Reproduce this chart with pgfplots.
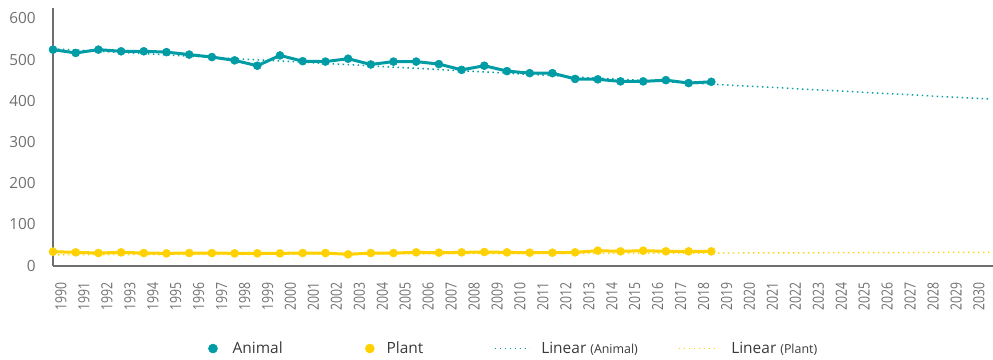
\documentclass[border=0pt]{standalone}
\usepackage{fontspec}
\setmainfont{Open Sans}
\newfontfamily\narrow[FakeStretch=0.8]{Open Sans}
\usepackage{pgfplots}
\pgfplotsset{compat=1.18}
\definecolor{animal}{HTML}{009CA6}
\definecolor{plant}{HTML}{FFD100}
\definecolor{axgray}{HTML}{6E6E6E}
\definecolor{labgray}{HTML}{707070}
\definecolor{legtext}{HTML}{3A3A3A}
\begin{document}
\begin{tikzpicture}
\useasboundingbox (-39.75pt,-70pt) rectangle (705pt,199.3pt);
\begin{axis}[
  at={(0,0)}, anchor=south west,
  width=705pt, height=193.3pt, scale only axis,
  xmin=0, xmax=41.41, ymin=0, ymax=625,
  clip=false,
  axis x line*=bottom, axis y line*=left,
  axis line style={axgray, line width=1.5pt, -},
  major tick length=0pt, tick style={draw=none},
  ytick={0,100,...,600},
  xtick={0.352,1.363,...,40.8},
  xticklabels={1990,1991,1992,1993,1994,1995,1996,1997,1998,1999,2000,2001,2002,2003,2004,2005,2006,2007,2008,2009,2010,2011,2012,2013,2014,2015,2016,2017,2018,2019,2020,2021,2022,2023,2024,2025,2026,2027,2028,2029,2030},
  /pgf/number format/assume math mode=true,
  yticklabel style={inner sep=0pt, anchor=east, xshift=-12.75pt, font=\fontsize{11.5}{13}\selectfont, text=labgray},
  xticklabel style={yshift=-12.2pt, rotate=90, anchor=east, inner sep=0pt, font=\narrow\fontsize{11.5}{13}\selectfont, text=labgray},
  legend columns=4,
  legend cell align=left,
  legend style={draw=none, fill=none, inner sep=0pt, outer sep=0pt,
    font=\fontsize{11.6}{13}\selectfont, text=legtext,
    nodes={inner sep=0pt},
    /tikz/every even column/.style={column sep=0pt},
    /tikz/every odd column/.style={column sep=0pt},
    at={(axis description cs:0,0)}, anchor=west, xshift=116.4pt, yshift=-62.1pt},
]
% trend lines
\addplot[animal, line width=1.1pt, dash pattern=on 1.1pt off 2.65pt, forget plot] coordinates {(0,526) (41.3,404)};
\addplot[plant, line width=1.1pt, dash pattern=on 1.1pt off 2.65pt, forget plot] coordinates {(0,26.5) (41.3,32.5)};
% Animal
\addplot[animal, line width=2.25pt, mark=*, mark size=3pt, mark options={solid, line width=0.4pt}, forget plot] coordinates {
(0,524) (1,516) (2,524) (3,520) (4,520) (5,518) (6,512) (7,506) (8,498) (9,485)
(10,510) (11,496) (12,495) (13,502) (14,488) (15,495) (16,495) (17,489) (18,475) (19,485)
(20,472) (21,467) (22,467) (23,453) (24,452) (25,447) (26,447) (27,450) (28,443) (29,446)};
% Plant
\addplot[plant, line width=2.25pt, mark=*, mark size=3pt, mark options={solid, line width=0.4pt}, forget plot] coordinates {
(0,34.1) (1,32.4) (2,30.8) (3,32.4) (4,30.8) (5,30) (6,30.8) (7,30.8) (8,30) (9,30)
(10,30) (11,30.8) (12,30.8) (13,27.6) (14,30.8) (15,30.8) (16,32.4) (17,31.6) (18,32.4) (19,33.2)
(20,32.4) (21,31.6) (22,31.6) (23,32.4) (24,36.5) (25,34.9) (26,36.5) (27,34.9) (28,34.9) (29,34.9)};
% legend
\addlegendimage{legend image code/.code={\path[draw=none] (0,0) -- (18.08pt,0); \fill[animal] (3.375pt,0) circle (3.375pt);}}
\addlegendentry{\makebox[99.4pt][l]{Animal}}
\addlegendimage{legend image code/.code={\path[draw=none] (0,0) -- (15.9pt,0); \fill[plant] (3.375pt,0) circle (3.375pt);}}
\addlegendentry{\makebox[80.5pt][l]{Plant}}
\addlegendimage{legend image code/.code={\draw[animal, line width=1.1pt, dash pattern=on 1.1pt off 2.65pt] (0,0) -- (26.25pt,0); \path[draw=none] (0,0) -- (35pt,0);}}
\addlegendentry{\makebox[102.5pt][l]{Linear {\fontsize{9.3}{10}\selectfont(Animal)}}}
\addlegendimage{legend image code/.code={\draw[plant, line width=1.1pt, dash pattern=on 1.1pt off 2.65pt] (0,0) -- (27.45pt,0); \path[draw=none] (0,0) -- (39.45pt,0);}}
\addlegendentry{Linear {\fontsize{9.3}{10}\selectfont(Plant)}}
\end{axis}
\end{tikzpicture}
\end{document}
